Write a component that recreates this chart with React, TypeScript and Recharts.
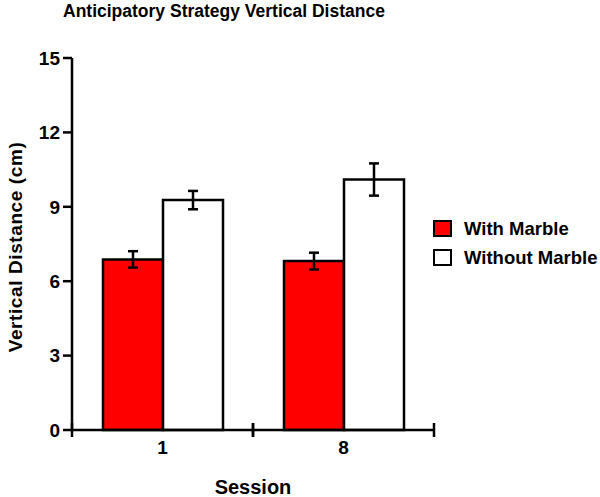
import React from 'react';
import { BarChart, Bar, XAxis, YAxis, ErrorBar, Legend } from 'recharts';

const sessions = ['1', '8'];
const withMarble = [6.88, 6.81];
const withMarbleErr = [0.33, 0.34];
const withoutMarble = [9.27, 10.1];
const withoutMarbleErr = [0.37, 0.65];
const yTicks = [0, 3, 6, 9, 12, 15];

const data = sessions.map((s, i) => ({
  session: s,
  with: withMarble[i],
  withErr: withMarbleErr[i],
  without: withoutMarble[i],
  withoutErr: withoutMarbleErr[i],
}));

const FONT = '"Liberation Sans", Arial, Helvetica, sans-serif';

const SessionTick = (props: any) => {
  const { x, y, payload } = props;
  const half = payload && typeof payload.offset === 'number' && payload.offset > 0 ? payload.offset : 90.5;
  const axisY = y - 11;
  return (
    <g>
      <line x1={x - half} x2={x - half} y1={axisY - 7} y2={axisY + 7} stroke="#000" strokeWidth={2.5} />
      <line x1={x + half} x2={x + half} y1={axisY - 7} y2={axisY + 7} stroke="#000" strokeWidth={2.5} />
      <text x={x} y={y} dy="0.71em" textAnchor="middle" fontSize={19} fontWeight="bold" fill="#000" fontFamily={FONT}>
        {payload.value}
      </text>
    </g>
  );
};

const LegendContent = (props: any) => {
  const { payload } = props;
  return (
    <div style={{ fontFamily: FONT }}>
      {(payload || []).map((entry: any, i: number) => (
        <div key={i} style={{ display: 'flex', alignItems: 'center', height: 29 }}>
          <div
            style={{
              width: 15,
              height: 13,
              background: entry.color,
              border: '2px solid #000',
              marginRight: 12,
            }}
          />
          <span style={{ fontSize: 18.5, fontWeight: 'bold', color: '#000' }}>{entry.value}</span>
        </div>
      ))}
    </div>
  );
};

export default function App() {
  return (
    <div style={{ position: 'absolute', left: 0, top: 0, width: 600, height: 497, background: '#fff', fontFamily: FONT }}>
      <div
        style={{
          position: 'absolute',
          left: 63,
          top: 1,
          fontSize: 17.5,
          lineHeight: '20px',
          fontWeight: 'bold',
          color: '#000',
          whiteSpace: 'nowrap',
        }}
      >
        Anticipatory Strategy Vertical Distance
      </div>
      <BarChart
        width={600}
        height={497}
        data={data}
        margin={{ top: 58, right: 166, bottom: 37, left: 0 }}
        barGap={0}
        barSize={60}
      >
        <XAxis
          dataKey="session"
          height={30}
          tickLine={false}
          tickSize={7}
          tickMargin={4}
          axisLine={{ stroke: '#000', strokeWidth: 2.5 }}
          tick={<SessionTick />}
          label={{
            value: 'Session',
            position: 'center',
            dy: 42,
            style: { fontSize: 20, fontWeight: 'bold', fill: '#000', fontFamily: FONT },
          }}
        />
        <YAxis
          width={72}
          domain={[0, 15]}
          ticks={yTicks}
          interval={0}
          tickSize={9}
          tickMargin={3}
          axisLine={{ stroke: '#000', strokeWidth: 2.5 }}
          tickLine={{ stroke: '#000', strokeWidth: 2.5 }}
          tick={{ fill: '#000', fontSize: 19, fontWeight: 'bold', fontFamily: FONT }}
          label={{
            value: 'Vertical Distance (cm)',
            angle: -90,
            position: 'center',
            dx: -20.5,
            dy: 3,
            style: { fontSize: 19, fontWeight: 'bold', fill: '#000', fontFamily: FONT, letterSpacing: 0.6 },
          }}
        />
        <Legend
          layout="vertical"
          align="center"
          verticalAlign="middle"
          content={<LegendContent />}
          wrapperStyle={{ left: 433, top: 214, width: 167 }}
        />
        <Bar dataKey="with" name="With Marble" fill="#FF0000" stroke="#000" strokeWidth={2.5} isAnimationActive={false}>
          <ErrorBar dataKey="withErr" width={5} strokeWidth={2.5} stroke="#000" direction="y" isAnimationActive={false} />
        </Bar>
        <Bar dataKey="without" name="Without Marble" fill="#FFFFFF" stroke="#000" strokeWidth={2.5} isAnimationActive={false}>
          <ErrorBar dataKey="withoutErr" width={5} strokeWidth={2.5} stroke="#000" direction="y" isAnimationActive={false} />
        </Bar>
      </BarChart>
    </div>
  );
}
